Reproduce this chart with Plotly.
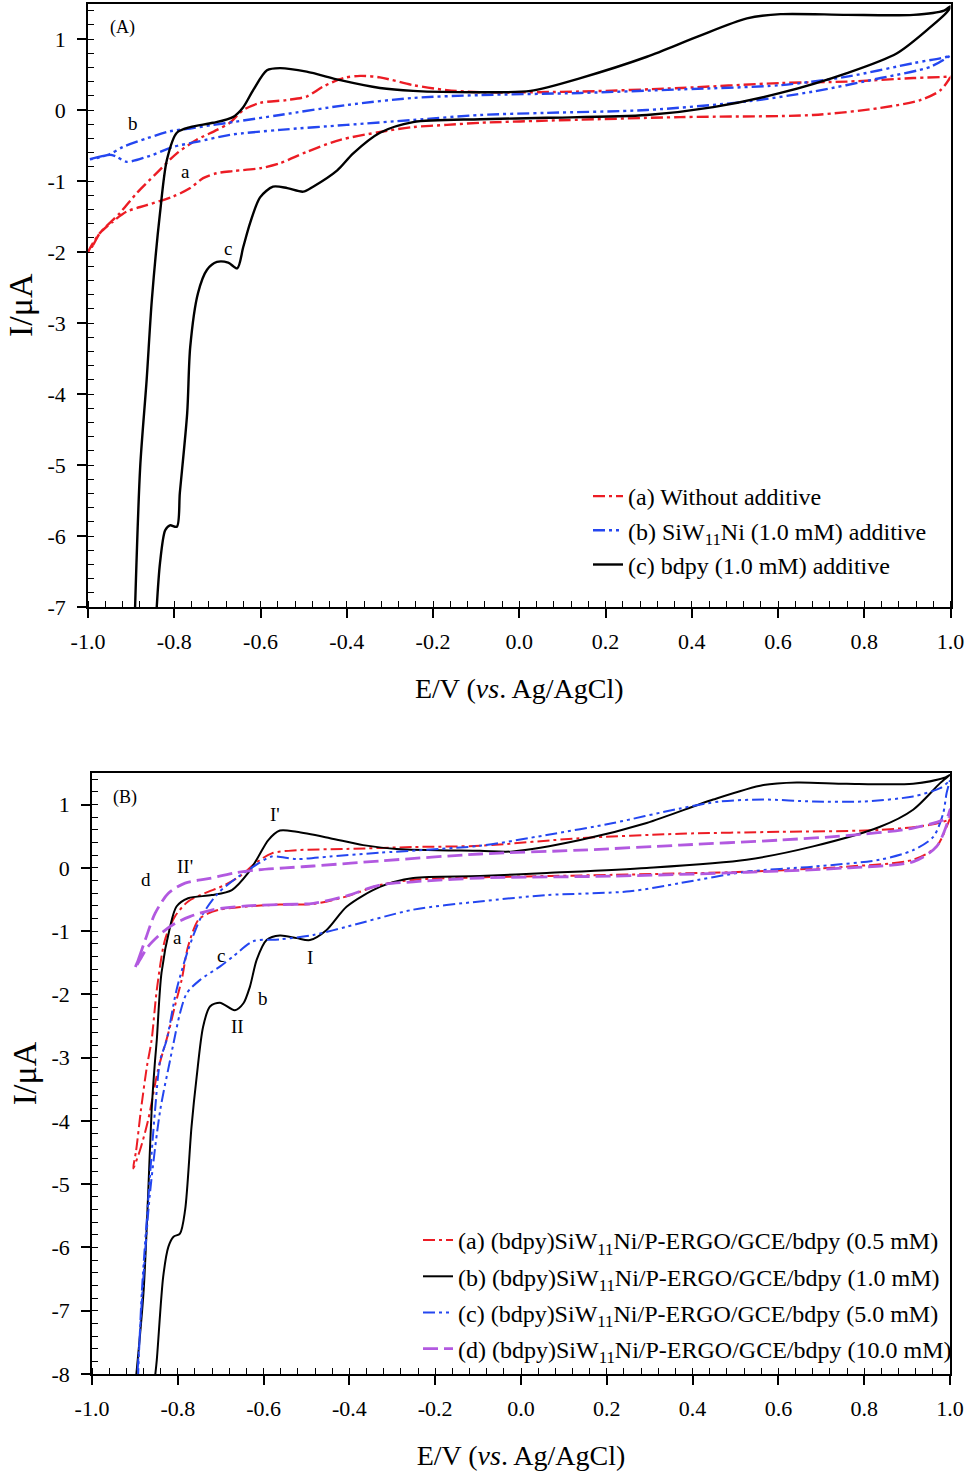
import plotly.graph_objects as go

# ---------------- Panel A data (E in V, I in uA), closed CV loops ----------------
a_top_E = [-1.0, -0.988, -0.972, -0.926, -0.887, -0.841, -0.794, -0.748, -0.701, -0.671, -0.640, -0.601,
           -0.539, -0.493, -0.455, -0.408, -0.369, -0.323, -0.246, -0.168, -0.090, 0.142, 0.374, 0.606,
           0.760, 0.914, 0.992, 1.0,
           0.977, 0.930, 0.838, 0.682, 0.374, 0.064, -0.090, -0.168, -0.246, -0.323, -0.415, -0.493,
           -0.555, -0.601, -0.664, -0.701, -0.733, -0.763, -0.803, -0.864, -0.910, -0.942, -0.972, -0.988, -1.0]
a_top_I = [-2.0, -1.90, -1.73, -1.45, -1.17, -0.89, -0.61, -0.42, -0.28, -0.18, 0.0, 0.10,
           0.14, 0.19, 0.33, 0.45, 0.48, 0.46, 0.35, 0.28, 0.25, 0.26, 0.31, 0.38,
           0.40, 0.45, 0.47, 0.48,
           0.28, 0.14, 0.03, -0.07, -0.10, -0.15, -0.18, -0.21, -0.24, -0.31, -0.42, -0.59,
           -0.75, -0.82, -0.86, -0.89, -0.96, -1.10, -1.22, -1.34, -1.43, -1.57, -1.73, -1.87, -2.0]

b_top_E = [-1.0, -0.975, -0.949, -0.919, -0.864, -0.810, -0.763, -0.710, -0.664, -0.555, -0.400, -0.246,
           -0.090, 0.142, 0.374, 0.606, 0.760, 0.914, 0.992, 1.0,
           0.954, 0.838, 0.682, 0.528, 0.296, 0.064, -0.090, -0.246, -0.400, -0.555, -0.671, -0.748,
           -0.803, -0.849, -0.864, -0.910, -0.933, -0.949, -0.975, -1.0]
b_top_I = [-0.70, -0.66, -0.62, -0.52, -0.40, -0.30, -0.26, -0.21, -0.17, -0.07, 0.07, 0.17,
           0.21, 0.24, 0.29, 0.35, 0.47, 0.66, 0.75, 0.77,
           0.61, 0.45, 0.26, 0.12, 0.0, -0.04, -0.07, -0.14, -0.21, -0.28, -0.35, -0.45,
           -0.52, -0.63, -0.66, -0.73, -0.66, -0.63, -0.67, -0.70]

c_top_E = [-0.891, -0.879, -0.864, -0.852, -0.833, -0.817, -0.794, -0.763, -0.710, -0.664, -0.640, -0.617,
           -0.585, -0.555, -0.493, -0.415, -0.323, -0.246, -0.090, 0.026, 0.142, 0.296, 0.412, 0.528,
           0.606, 0.760, 0.914, 0.985, 1.0,
           0.992, 0.954, 0.876, 0.760, 0.606, 0.450, 0.296, 0.064, -0.090, -0.246, -0.323, -0.385,
           -0.422, -0.478, -0.501, -0.538, -0.571, -0.601, -0.624, -0.640, -0.654, -0.675, -0.701, -0.724,
           -0.745, -0.763, -0.770, -0.787, -0.794, -0.810, -0.821, -0.833, -0.841]
c_top_I = [-7.04, -5.03, -3.80, -2.68, -1.45, -0.70, -0.32, -0.24, -0.18, -0.10, 0.04, 0.28,
           0.56, 0.59, 0.54, 0.42, 0.31, 0.27, 0.25, 0.27, 0.45, 0.75, 1.03, 1.29,
           1.35, 1.34, 1.34, 1.40, 1.46,
           1.38, 1.17, 0.80, 0.52, 0.24, 0.04, -0.07, -0.11, -0.13, -0.17, -0.32, -0.61,
           -0.85, -1.08, -1.15, -1.10, -1.08, -1.23, -1.59, -1.93, -2.23, -2.15, -2.14, -2.25,
           -2.58, -3.34, -4.27, -5.39, -5.87, -5.85, -5.92, -6.38, -7.04]

# ---------------- Panel B data ----------------
a_bot_E = [-0.904, -0.897, -0.886, -0.872, -0.861, -0.849, -0.830, -0.807, -0.776, -0.737, -0.690, -0.651,
           -0.620, -0.581, -0.523, -0.406, -0.251, -0.096, 0.138, 0.371, 0.604, 0.837, 0.953, 0.996, 1.0,
           0.992, 0.969, 0.915, 0.759, 0.526, 0.215, -0.096, -0.251, -0.329, -0.406, -0.484, -0.562,
           -0.639, -0.702, -0.729, -0.752, -0.776, -0.791, -0.807, -0.822, -0.846, -0.869, -0.888, -0.904]
a_bot_I = [-4.75, -4.46, -3.83, -3.14, -2.72, -1.93, -1.14, -0.77, -0.53, -0.40, -0.27, -0.11,
           0.07, 0.23, 0.28, 0.30, 0.33, 0.35, 0.47, 0.54, 0.57, 0.60, 0.68, 0.76, 0.79,
           0.65, 0.34, 0.13, 0.02, -0.06, -0.11, -0.15, -0.19, -0.27, -0.45, -0.57, -0.58,
           -0.61, -0.66, -0.72, -0.82, -1.24, -1.77, -2.19, -2.61, -3.19, -3.98, -4.46, -4.75]

b_bot_E = [-0.898, -0.880, -0.869, -0.861, -0.853, -0.849, -0.838, -0.818, -0.803, -0.776, -0.721, -0.674,
           -0.636, -0.612, -0.589, -0.562, -0.523, -0.445, -0.368, -0.290, -0.096, -0.019, 0.138, 0.293,
           0.448, 0.565, 0.643, 0.759, 0.914, 0.985, 1.0,
           0.977, 0.914, 0.837, 0.681, 0.526, 0.293, 0.060, -0.096, -0.251, -0.329, -0.406, -0.453,
           -0.492, -0.523, -0.562, -0.593, -0.616, -0.632, -0.647, -0.667, -0.702, -0.725, -0.741, -0.756,
           -0.768, -0.783, -0.795, -0.810, -0.822, -0.834, -0.849, -0.854]
b_bot_I = [-8.1, -6.72, -5.14, -3.83, -3.04, -2.72, -1.66, -0.93, -0.61, -0.48, -0.43, -0.35,
           -0.08, 0.18, 0.44, 0.59, 0.57, 0.47, 0.36, 0.30, 0.27, 0.26, 0.44, 0.71,
           1.08, 1.31, 1.35, 1.33, 1.33, 1.42, 1.47,
           1.34, 0.92, 0.65, 0.34, 0.13, 0.0, -0.08, -0.13, -0.16, -0.30, -0.61, -0.98,
           -1.14, -1.11, -1.07, -1.14, -1.45, -1.88, -2.14, -2.25, -2.13, -2.19, -2.51, -3.30,
           -4.09, -5.41, -5.78, -5.83, -5.99, -6.46, -7.78, -8.1]

c_bot_E = [-0.893, -0.884, -0.869, -0.853, -0.841, -0.826, -0.803, -0.776, -0.745, -0.706, -0.659, -0.612,
           -0.581, -0.523, -0.445, -0.329, -0.096, 0.060, 0.215, 0.371, 0.464, 0.565, 0.681, 0.798,
           0.914, 0.977, 0.996, 1.0,
           0.992, 0.984, 0.961, 0.914, 0.837, 0.681, 0.526, 0.371, 0.254, 0.060, -0.096, -0.251,
           -0.406, -0.484, -0.562, -0.624, -0.671, -0.702, -0.748, -0.779, -0.795, -0.810, -0.818,
           -0.841, -0.865, -0.880, -0.895]
c_bot_I = [-8.1, -6.72, -5.25, -3.83, -3.04, -2.72, -1.93, -1.30, -0.77, -0.40, -0.14, 0.07,
           0.18, 0.14, 0.18, 0.24, 0.35, 0.52, 0.71, 0.94, 1.05, 1.08, 1.05, 1.05,
           1.13, 1.26, 1.36, 1.40,
           1.18, 0.86, 0.49, 0.28, 0.13, 0.02, -0.06, -0.24, -0.37, -0.43, -0.53, -0.66,
           -0.93, -1.06, -1.13, -1.16, -1.40, -1.56, -1.77, -1.98, -2.30, -2.77, -3.04,
           -3.83, -5.15, -6.46, -8.1]

d_bot_E = [-0.900, -0.892, -0.876, -0.853, -0.822, -0.783, -0.729, -0.667, -0.612, -0.550, -0.484, -0.329,
           -0.096, 0.138, 0.371, 0.604, 0.759, 0.914, 0.992, 1.0,
           0.996, 0.969, 0.915, 0.759, 0.526, 0.215, -0.096, -0.251, -0.329, -0.406, -0.484, -0.562,
           -0.639, -0.717, -0.772, -0.807, -0.838, -0.869, -0.888, -0.900]
d_bot_I = [-1.59, -1.45, -1.14, -0.72, -0.40, -0.24, -0.17, -0.08, -0.03, 0.0, 0.03, 0.11,
           0.22, 0.28, 0.36, 0.44, 0.51, 0.63, 0.79, 0.92,
           0.76, 0.34, 0.10, 0.0, -0.07, -0.13, -0.16, -0.22, -0.27, -0.44, -0.56, -0.58,
           -0.60, -0.66, -0.77, -0.88, -1.03, -1.24, -1.45, -1.59]

names_top = ["(a) Without additive",
             "(b) SiW<sub>11</sub>Ni (1.0 mM) additive",
             "(c) bdpy (1.0 mM) additive"]
names_bot = ["(a) (bdpy)SiW<sub>11</sub>Ni/P-ERGO/GCE/bdpy (0.5 mM)",
             "(b) (bdpy)SiW<sub>11</sub>Ni/P-ERGO/GCE/bdpy (1.0 mM)",
             "(c) (bdpy)SiW<sub>11</sub>Ni/P-ERGO/GCE/bdpy (5.0 mM)",
             "(d) (bdpy)SiW<sub>11</sub>Ni/P-ERGO/GCE/bdpy (10.0 mM)"]

x_ticks = [-1.0, -0.8, -0.6, -0.4, -0.2, 0.0, 0.2, 0.4, 0.6, 0.8, 1.0]
x_ticktext = ["-1.0", "-0.8", "-0.6", "-0.4", "-0.2", "0.0", "0.2", "0.4", "0.6", "0.8", "1.0"]
y_ticks_top = [-7, -6, -5, -4, -3, -2, -1, 0, 1]
y_ticks_bot = [-8, -7, -6, -5, -4, -3, -2, -1, 0, 1]

RED = "#ec1c24"
BLUE = "#2446f0"
BLACK = "#000000"
PURPLE = "#b259e0"
DASH_DOT = "12px,4px,3px,4px"
DASH_DOT_DOT = "12px,4px,3px,4px,3px,4px"
DASHED = "15px,6px"
FONT = "Liberation Serif, Times New Roman, serif"

fig = go.Figure()

def add(E, I, name, color, dash, width, xa, ya, legend, group):
    fig.add_trace(go.Scatter(
        x=E, y=I, mode="lines", name=name, xaxis=xa, yaxis=ya, legend=legend,
        legendgroup=group,
        line=dict(color=color, dash=dash, width=width, shape="spline", smoothing=0.8)))

add(a_top_E, a_top_I, names_top[0], RED, DASH_DOT, 2.4, "x", "y", "legend", "ta")
add(b_top_E, b_top_I, names_top[1], BLUE, DASH_DOT_DOT, 2.4, "x", "y", "legend", "tb")
add(c_top_E, c_top_I, names_top[2], BLACK, "solid", 2.4, "x", "y", "legend", "tc")

add(a_bot_E, a_bot_I, names_bot[0], RED, DASH_DOT, 2.0, "x2", "y2", "legend2", "ba")
add(b_bot_E, b_bot_I, names_bot[1], BLACK, "solid", 2.0, "x2", "y2", "legend2", "bb")
add(c_bot_E, c_bot_I, names_bot[2], BLUE, DASH_DOT_DOT, 2.0, "x2", "y2", "legend2", "bc")
add(d_bot_E, d_bot_I, names_bot[3], PURPLE, DASHED, 2.8, "x2", "y2", "legend2", "bd")

H = 1473.0
W = 968.0

def xaxis(domain, anchor):
    return dict(domain=domain, anchor=anchor, range=[-1.0, 1.0], automargin=False,
                tickmode="array", tickvals=x_ticks, ticktext=x_ticktext,
                ticks="outside", ticklen=9, tickwidth=1.5, tickcolor="black",
                ticklabelstandoff=5,
                minor=dict(tickmode="linear", tick0=-1.0, dtick=0.04, ticks="inside",
                           ticklen=6, tickwidth=1.2, tickcolor="black"),
                showline=True, linewidth=1.5, linecolor="black", mirror=True,
                showgrid=False, zeroline=False,
                tickfont=dict(family=FONT, size=22, color="black"),
                title=dict(text="E/V (<i>vs</i>. Ag/AgCl)", standoff=25,
                           font=dict(family=FONT, size=28, color="black")))

def yaxis(domain, anchor, rng, ticks):
    return dict(domain=domain, anchor=anchor, range=rng, automargin=False,
                tickmode="array", tickvals=ticks, ticktext=[str(t) for t in ticks],
                ticks="outside", ticklen=9, tickwidth=1.5, tickcolor="black",
                ticklabelstandoff=7,
                minor=dict(tickmode="linear", tick0=0, dtick=0.2, ticks="inside",
                           ticklen=6, tickwidth=1.2, tickcolor="black"),
                showline=True, linewidth=1.5, linecolor="black", mirror=True,
                showgrid=False, zeroline=False,
                tickfont=dict(family=FONT, size=22, color="black"),
                title=dict(text="I/μA", standoff=5,
                           font=dict(family=FONT, size=34, color="black")))

fig.update_layout(
    width=968, height=1473, autosize=False,
    margin=dict(l=0, r=0, t=0, b=0, autoexpand=False),
    paper_bgcolor="white", plot_bgcolor="white",
    font=dict(family=FONT, color="black"),
    xaxis=xaxis([88 / W, 950.5 / W], "y"),
    yaxis=yaxis([1 - 607 / H, 1 - 3.5 / H], "x", [-7, 1.5], y_ticks_top),
    xaxis2=xaxis([92 / W, 950 / W], "y2"),
    yaxis2=yaxis([1 - 1374 / H, 1 - 773 / H], "x2", [-8, 1.5], y_ticks_bot),
    legend=dict(x=(628 - 40) / W, y=1 - 474 / H, xanchor="left", yanchor="top",
                bgcolor="rgba(0,0,0,0)", traceorder="grouped", tracegroupgap=0,
                font=dict(family=FONT, size=24, color="black")),
    legend2=dict(x=(458 - 40) / W, y=1 - 1218 / H, xanchor="left", yanchor="top",
                 bgcolor="rgba(0,0,0,0)", traceorder="grouped", tracegroupgap=2,
                 font=dict(family=FONT, size=24, color="black")),
    showlegend=True,
)

top_labels = [("(A)", -0.921, 1.155, 18), ("b", -0.896, -0.197, 19),
              ("a", -0.775, -0.873, 19), ("c", -0.675, -1.944, 19)]
bot_labels = [("(B)", -0.923, 1.107, 18), ("I'", -0.573, 0.838, 19), ("II'", -0.783, 0.03, 19),
              ("d", -0.874, -0.19, 19), ("a", -0.800, -1.107, 19), ("c", -0.699, -1.39, 19),
              ("I", -0.492, -1.42, 19), ("b", -0.601, -2.06, 19), ("II", -0.660, -2.50, 19)]
for t, xx, yy, s in top_labels:
    fig.add_annotation(text=t, x=xx, y=yy, xref="x", yref="y", showarrow=False,
                       font=dict(family=FONT, size=s, color="black"))
for t, xx, yy, s in bot_labels:
    fig.add_annotation(text=t, x=xx, y=yy, xref="x2", yref="y2", showarrow=False,
                       font=dict(family=FONT, size=s, color="black"))

fig.write_html("out.html", config={"displayModeBar": False},
               post_script="document.body.style.margin='0';document.body.style.overflow='hidden';")
